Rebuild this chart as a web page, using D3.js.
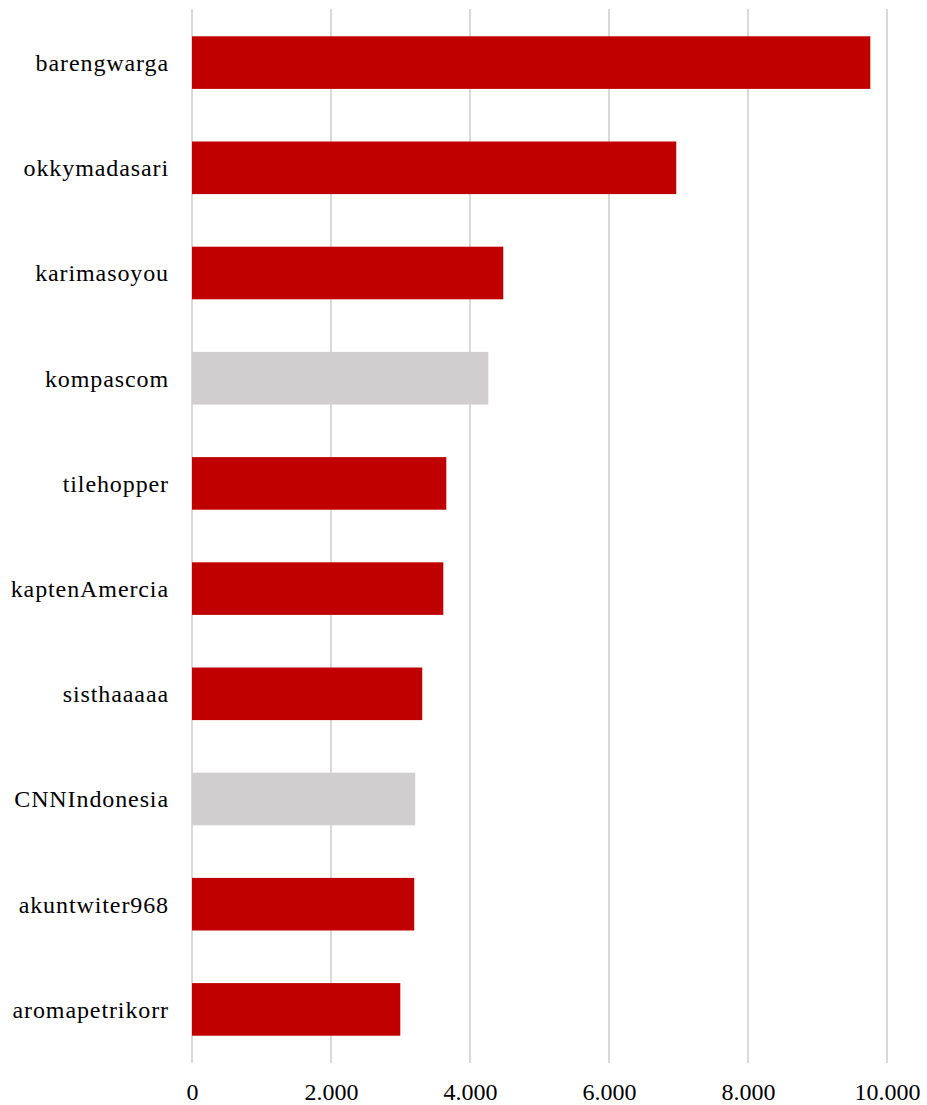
<!DOCTYPE html>
<html>
<head>
<meta charset="utf-8">
<script src="https://cdnjs.cloudflare.com/ajax/libs/d3/7.8.5/d3.min.js"></script>
<style>
  body { margin: 0; background: #fff; }
  text { font-family: "Liberation Serif", "DejaVu Serif", serif; fill: #000; }
</style>
</head>
<body>
<div id="chart"></div>
<script>
// data
var accounts = ["barengwarga", "okkymadasari", "karimasoyou", "kompascom", "tilehopper",
                "kaptenAmercia", "sisthaaaaa", "CNNIndonesia", "akuntwiter968", "aromapetrikorr"];
var counts = [9760, 6968, 4479, 4263, 3659, 3616, 3313, 3212, 3198, 2997];
var isMedia = [false, false, false, true, false, false, false, true, false, false];
var xTicks = [0, 2000, 4000, 6000, 8000, 10000];

var width = 927,
    height = 1105,
    margin = {top: 9, right: 40, bottom: 42, left: 192};

var svg = d3.select("#chart")
    .append("svg")
    .attr("width", width)
    .attr("height", height);

var xScale = d3.scaleLinear()
    .domain([0, 10000])
    .range([margin.left, 887]);

var yScale = d3.scaleBand()
    .domain(accounts)
    .range([margin.top + 1, height - margin.bottom - 1])
    .paddingInner(0.5)
    .paddingOuter(0.25);

// vertical gridlines
svg.append("g")
  .selectAll("line")
  .data(xTicks)
  .enter().append("line")
    .attr("x1", function(d) { return xScale(d); })
    .attr("x2", function(d) { return xScale(d); })
    .attr("y1", margin.top)
    .attr("y2", height - margin.bottom)
    .style("stroke", "#d9d9d9")
    .style("stroke-width", 2);

// bars
svg.append("g")
  .selectAll("rect")
  .data(counts)
  .enter().append("rect")
    .attr("x", xScale(0))
    .attr("y", function(d, i) { return yScale(accounts[i]); })
    .attr("width", function(d) { return xScale(d) - xScale(0); })
    .attr("height", yScale.bandwidth())
    .style("fill", function(d, i) { return isMedia[i] ? "#d0cece" : "#c00000"; });

// category labels
svg.append("g")
  .selectAll("text")
  .data(accounts)
  .enter().append("text")
    .attr("x", 169)
    .attr("y", function(d) { return yScale(d) + yScale.bandwidth() / 2; })
    .attr("dy", "0.35em")
    .attr("text-anchor", "end")
    .style("font-size", "24px")
    .style("letter-spacing", "0.9px")
    .text(function(d) { return d; });

// x axis labels
var fmt = d3.formatLocale({decimal: ",", thousands: ".", grouping: [3], currency: ["", ""]}).format(",");
var xAxis = d3.axisBottom(xScale)
    .tickValues(xTicks)
    .tickSize(0)
    .tickPadding(0)
    .tickFormat(fmt);

var gX = svg.append("g")
    .attr("transform", "translate(0," + (height - 13) + ")")
    .call(xAxis);
gX.select(".domain").remove();
gX.selectAll("text")
    .attr("dy", "0.35em")
    .style("font-size", "24px")
    .style("font-family", "'Liberation Serif', serif")
    .style("fill", "#000");
</script>
</body>
</html>
